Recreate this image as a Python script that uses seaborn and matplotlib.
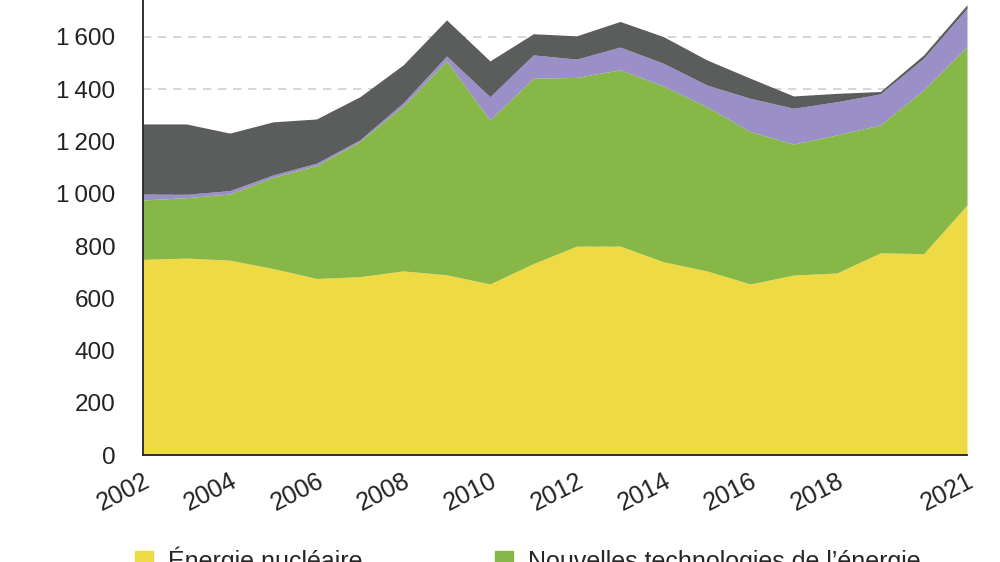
import matplotlib
matplotlib.use("Agg")
import matplotlib.pyplot as plt
from matplotlib.patches import Patch
from matplotlib.ticker import FuncFormatter
import seaborn as sns

# values (stack layers, bottom to top)
years = list(range(2002, 2022))
nucleaire = [749, 754, 746, 714, 676, 683, 705, 690, 655, 733,
             800, 800, 740, 705, 655, 689, 697, 774, 771, 957]
nouvelles = [227, 231, 253, 349, 432, 517, 631, 818, 627, 709,
             645, 674, 672, 628, 583, 501, 528, 489, 626, 606]
violet = [23, 13, 13, 9, 9, 6, 12, 19, 89, 89,
          70, 87, 87, 83, 127, 137, 127, 119, 121, 146]
gris = [268, 269, 220, 203, 169, 165, 145, 138, 137, 81,
        89, 98, 102, 96, 77, 47, 32, 9, 13, 14]

tick_years = [2002, 2004, 2006, 2008, 2010, 2012, 2014, 2016, 2018, 2021]
legend_labels = ["Énergie nucléaire", "Nouvelles technologies de l’énergie"]
colors = ["#EDDA44", "#86B747", "#9A8FC7", "#5B5D5D"]

sns.set_style("white")
plt.rcParams["font.family"] = ["Liberation Sans", "DejaVu Sans"]

fig = plt.figure(figsize=(10, 5.62), dpi=100)
ax = fig.add_axes([0.143, 0.19, 0.824, 0.81])

ax.stackplot(years, nucleaire, nouvelles, violet, gris, colors=colors,
             linewidth=0, zorder=2)

ax.set_xlim(2002, 2021)
ax.set_ylim(0, 1741)
ax.set_yticks(range(0, 1601, 200))


def fmt_fr(v, pos):
    v = int(v)
    if v >= 1000:
        return f"{v // 1000}\u2009{v % 1000:03d}"
    return str(v)


ax.yaxis.set_major_formatter(FuncFormatter(fmt_fr))
ax.set_xticks(years)
ax.set_xticklabels([str(y) if y in tick_years else "" for y in years],
                   rotation=27, ha="right", rotation_mode="anchor")
ax.yaxis.grid(True, linestyle=(0, (5, 4)), color="#cfcfcf", linewidth=1.2, zorder=0)
ax.set_axisbelow(True)

for side in ["top", "right"]:
    ax.spines[side].set_visible(False)
for side in ["left", "bottom"]:
    ax.spines[side].set_color("#222222")
    ax.spines[side].set_linewidth(1.3)
    ax.spines[side].set_zorder(3)

ax.tick_params(axis="both", direction="out", width=1.3,
               color="#222222", labelcolor="#222222")
ax.tick_params(axis="y", length=8, pad=12, labelsize=17.5)
ax.tick_params(axis="x", length=6, pad=4, labelsize=18)

handles = [Patch(color=colors[0]), Patch(color=colors[1])]
fig.legend(handles, legend_labels, loc="upper left", bbox_to_anchor=(0.135, 0.028),
           ncol=2, frameon=False, fontsize=18, handlelength=0.72, handleheight=0.72,
           columnspacing=5.3, handletextpad=0.6, borderaxespad=0, borderpad=0)

fig.savefig("out.png", dpi=100)
